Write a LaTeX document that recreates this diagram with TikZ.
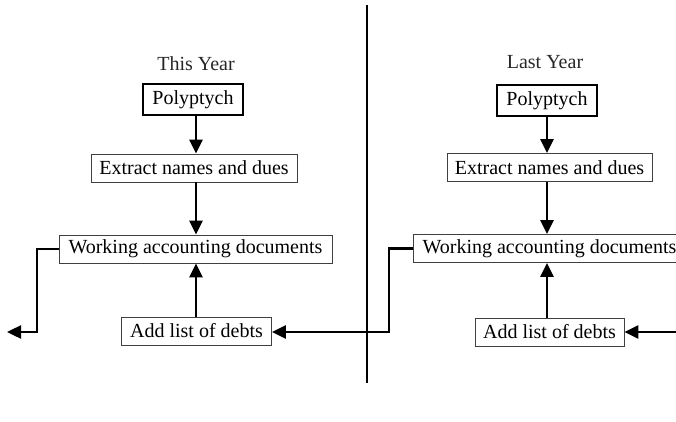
\documentclass[tikz,border=0pt]{standalone}
\usepackage{fontspec}
\setmainfont{Liberation Serif}
\usetikzlibrary{arrows.meta}
\begin{document}
\begin{tikzpicture}[x=1pt,y=-1pt,
  box/.style={draw=black!75, line width=0.8pt, inner sep=0pt, minimum height=28pt, font=\fontsize{20}{22}\selectfont},
  thickbox/.style={draw=black, line width=1.8pt, inner sep=0pt, minimum height=31pt, minimum width=100pt, font=\fontsize{20}{22}\selectfont},
  title/.style={inner sep=0pt, font=\fontsize{20}{22}\selectfont, text=black!85},
  conn/.style={line width=2.4pt, -{Triangle[width=13pt,length=14pt]}},
  plain/.style={line width=2.4pt}]
\useasboundingbox (0,0) rectangle (676,422);
\clip (0,0) rectangle (676,422);
% divider
\coordinate (vtop) at (367,5);
\coordinate (vbot) at (367,383);
\draw[line width=1.6pt] (vtop) -- (vbot);
% left column
\node[title] (t1) at (196,64) {This Year};
\node[thickbox] (p1) at (193,99.5) {Polyptych};
\node[box, minimum width=206pt] (e1) at (194,168) {Extract names and dues};
\node[box, minimum width=273pt] (w1) at (195.5,249) {Working accounting documents};
\node[box, minimum width=150pt] (a1) at (196.5,331) {Add list of debts};
% right column
\node[title] (t2) at (545,62) {Last Year};
\node[thickbox] (p2) at (547,100.5) {Polyptych};
\node[box, minimum width=205pt] (e2) at (549.5,167.5) {Extract names and dues};
\node[box, minimum width=273pt] (w2) at (549.5,248.5) {Working accounting documents};
\node[box, minimum width=149pt] (a2) at (549.5,332) {Add list of debts};
% connectors left
\draw[conn] (p1.south -| 196,0) -- (e1.north -| 196,0);
\draw[conn] (e1.south -| 196,0) -- (w1.north -| 196,0);
\draw[conn] (a1.north -| 196,0) -- (w1.south -| 196,0);
\coordinate (outl) at (7,332);
\draw[conn] (w1.west) -- (37,249) -- (37,332) -- (outl);
% connectors right
\draw[conn] (p2.south -| 547,0) -- (e2.north -| 547,0);
\draw[conn] (e2.south -| 547,0) -- (w2.north -| 547,0);
\draw[conn] (a2.north -| 547,0) -- (w2.south -| 547,0);
\draw[conn] (w2.west) -- (389,248.5) -- (389,332) -- (a1.east |- 0,332);
\coordinate (inr) at (680,332);
\draw[conn] (inr) -- (a2.east |- 0,332);
\end{tikzpicture}
\end{document}
